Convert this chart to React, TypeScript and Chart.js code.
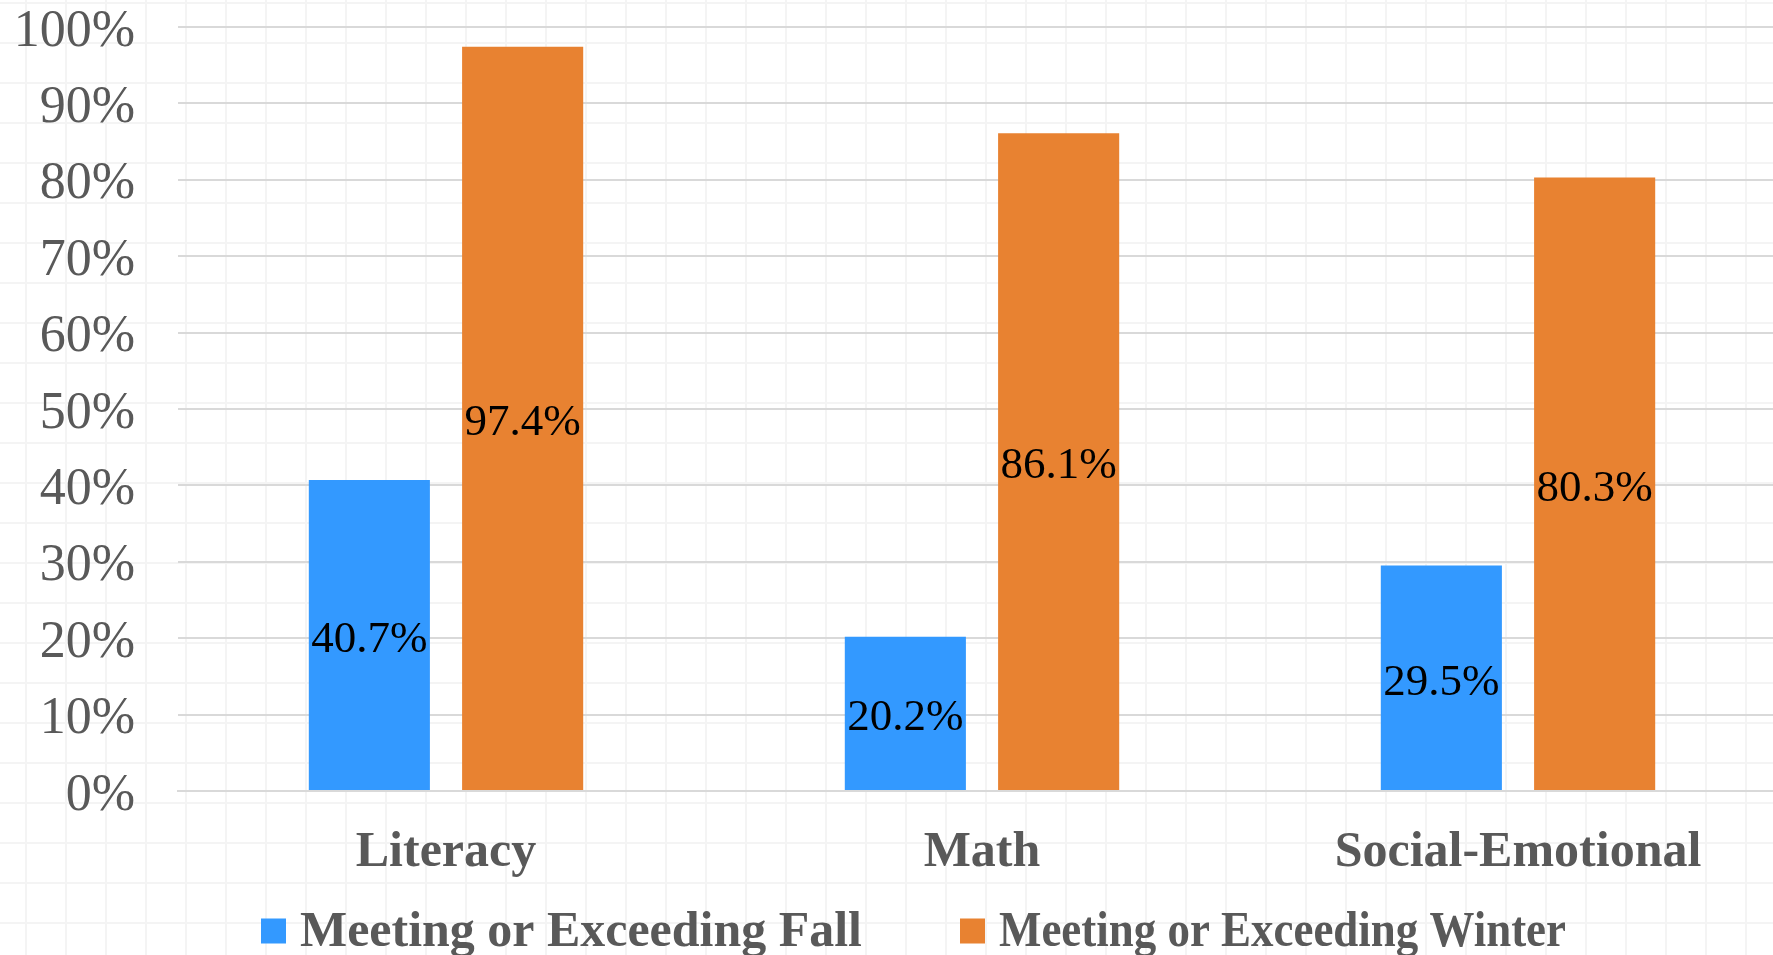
import { useEffect, useRef } from 'react';
import { Chart, registerables } from 'chart.js';

Chart.register(...registerables);

const categories = ['Literacy', 'Math', 'Social-Emotional'];
const seriesNames = ['Meeting or Exceeding Fall', 'Meeting or Exceeding Winter'];
const fallValues = [40.7, 20.2, 29.5];
const winterValues = [97.4, 86.1, 80.3];
const yTickValues = [0, 10, 20, 30, 40, 50, 60, 70, 80, 90, 100];

const BLUE = '#3399ff';
const ORANGE = '#e88231';
const FONT = '"Liberation Serif", "Times New Roman", serif';
const TEXT_GRAY = '#595959';

// legend layout (style constants)
const LEGEND_BOX_X = [261, 960];
const LEGEND_TEXT_MAX = [562, 567];
const LEGEND_CY = 933;

const dataLabelPlugin = {
  id: 'dataLabels',
  afterDatasetsDraw(chart: any) {
    const ctx = chart.ctx;
    ctx.save();
    ctx.font = `45px ${FONT}`;
    ctx.fillStyle = '#000000';
    ctx.textAlign = 'center';
    ctx.textBaseline = 'middle';
    chart.data.datasets.forEach((ds: any, di: number) => {
      const meta = chart.getDatasetMeta(di);
      meta.data.forEach((bar: any, i: number) => {
        const v = ds.data[i];
        const y = (bar.y + bar.base) / 2 + 5;
        ctx.fillText(v.toFixed(1) + '%', bar.x, y);
      });
    });
    ctx.restore();
  },
};

const legendPlugin = {
  id: 'customLegend',
  afterDraw(chart: any) {
    const ctx = chart.ctx;
    ctx.save();
    ctx.font = `bold 50px ${FONT}`;
    ctx.textBaseline = 'middle';
    ctx.textAlign = 'left';
    const box = 25;
    const gap = 14;
    chart.data.datasets.forEach((ds: any, i: number) => {
      const x = LEGEND_BOX_X[i];
      ctx.fillStyle = ds.backgroundColor;
      ctx.fillRect(x, LEGEND_CY - 2 - box / 2, box, box);
      ctx.fillStyle = TEXT_GRAY;
      ctx.fillText(ds.label, x + box + gap, LEGEND_CY, LEGEND_TEXT_MAX[i]);
    });
    ctx.restore();
  },
};

export default function App() {
  const ref = useRef<HTMLCanvasElement>(null);
  useEffect(() => {
    document.body.style.margin = '0';
    const chart = new Chart(ref.current as HTMLCanvasElement, {
      type: 'bar',
      data: {
        labels: categories,
        datasets: [
          {
            label: seriesNames[0],
            data: fallValues,
            backgroundColor: BLUE,
            categoryPercentage: 0.572,
            barPercentage: 0.79,
          },
          {
            label: seriesNames[1],
            data: winterValues,
            backgroundColor: ORANGE,
            categoryPercentage: 0.572,
            barPercentage: 0.79,
          },
        ],
      },
      options: {
        responsive: false,
        animation: false,
        layout: { padding: { left: 16, right: 0, top: 27, bottom: 0 } },
        plugins: {
          legend: { display: false },
          tooltip: { enabled: false },
        },
        scales: {
          x: {
            afterFit: (s: any) => {
              s.height = 164;
              s.paddingLeft = 0;
              s.paddingRight = 0;
            },
            grid: { display: false, drawTicks: false },
            border: { display: true, color: '#d9d9d9', width: 2 },
            ticks: {
              font: { family: FONT, size: 50, weight: 'bold' },
              color: TEXT_GRAY,
              padding: 32,
            },
          },
          y: {
            min: 0,
            max: 100,
            afterBuildTicks: (scale: any) => {
              scale.ticks = yTickValues.map((v) => ({ value: v }));
            },
            afterFit: (s: any) => {
              s.width = 162;
              s.paddingTop = 0;
              s.paddingBottom = 0;
            },
            ticks: {
              callback: (v: any) => v + '%',
              font: { family: FONT, size: 52 },
              color: TEXT_GRAY,
              padding: 43,
              labelOffset: 5,
            },
            grid: { color: '#d9d9d9', lineWidth: 2, drawTicks: false },
            border: { display: false },
          },
        },
      },
      plugins: [dataLabelPlugin, legendPlugin],
    });
    return () => chart.destroy();
  }, []);

  return (
    <div
      style={{
        position: 'fixed',
        left: 0,
        top: 0,
        width: 1773,
        height: 955,
        overflow: 'hidden',
        background: '#ffffff',
        backgroundImage:
          'linear-gradient(#f4f4f4 2px, transparent 2px), linear-gradient(90deg, #f4f4f4 2px, transparent 2px)',
        backgroundSize: '40px 40px',
        backgroundPosition: '25px 2px',
      }}
    >
      <canvas ref={ref} width={1786} height={955} style={{ display: 'block' }} />
    </div>
  );
}
